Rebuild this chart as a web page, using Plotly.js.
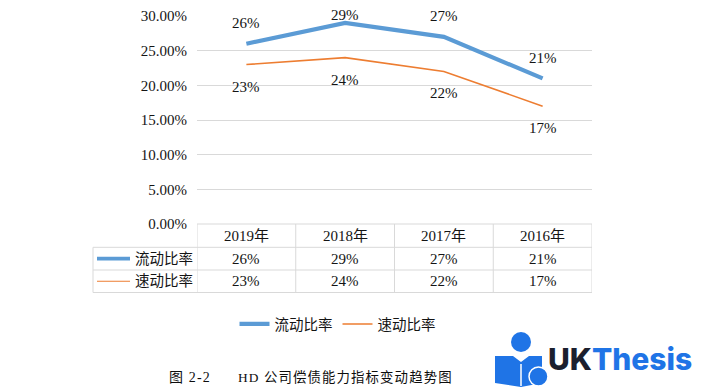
<!DOCTYPE html>
<html>
<head>
<meta charset="utf-8">
<script src="https://cdn.plot.ly/plotly-3.0.1.min.js"></script>
<style>html,body{margin:0;padding:0;background:#fff;}#chart{width:705px;height:387px;}</style>
</head>
<body>
<div id="chart"></div>
<script>
// ---- data ----
const years = ['2019年', '2018年', '2017年', '2016年'];
const seriesNames = ['流动比率', '速动比率'];
const currentRatio = [0.26, 0.29, 0.27, 0.21];
const quickRatio = [0.23, 0.24, 0.22, 0.17];
const captionLabel = '图 2-2';
const captionTitle = 'HD 公司偿债能力指标变动趋势图';
const logoText1 = 'UK';
const logoText2 = 'Thesis';

// ---- layout helpers ----
const W = 705, H = 387;
const M = {l: 197, r: 113, t: 16, b: 163};
const PW = W - M.l - M.r, PH = H - M.t - M.b;
const YMAX = 0.30;
const px = X => (X - M.l) / PW;
const py = Y => (H - M.b - Y) / PH;
const yPix = v => M.t + (1 - v / YMAX) * PH;

const serif = "'Liberation Serif', 'Times New Roman', 'Noto Sans CJK SC', serif";
const txt = '#141414';
const grid = '#d9d9d9';
const colors = ['#5b9bd5', '#ed7d31'];
const widths = [4.2, 1.6];
const allSeries = [currentRatio, quickRatio];
const pct = v => Math.round(v * 100) + '%';

const traces = allSeries.map((vals, i) => ({
  type: 'scatter', mode: 'lines', x: years, y: vals, name: seriesNames[i],
  line: {color: colors[i], width: widths[i]}, hoverinfo: 'skip'
}));

const annotations = [];
const shapes = [];

// data labels
currentRatio.forEach((v, i) => {
  const c = Math.max(yPix(v) - 20.5, 15);
  annotations.push({xref: 'x', x: years[i], yref: 'paper', y: py(c), yanchor: 'middle',
    text: pct(v), showarrow: false, font: {family: serif, size: 15, color: txt}});
});
quickRatio.forEach((v, i) => {
  const c = yPix(v) + 22;
  annotations.push({xref: 'x', x: years[i], yref: 'paper', y: py(c), yanchor: 'middle',
    text: pct(v), showarrow: false, font: {family: serif, size: 15, color: txt}});
});

// data table
const rowY = [235.7, 258.7, 281.3];
years.forEach((yr, i) => {
  annotations.push({xref: 'x', x: yr, yref: 'paper', y: py(rowY[0]), yanchor: 'middle',
    text: yr, showarrow: false, font: {family: serif, size: 15, color: txt}});
  allSeries.forEach((vals, s) => {
    annotations.push({xref: 'x', x: yr, yref: 'paper', y: py(rowY[s + 1]), yanchor: 'middle',
      text: pct(vals[i]), showarrow: false, font: {family: serif, size: 15, color: txt}});
  });
});
seriesNames.forEach((nm, s) => {
  annotations.push({xref: 'paper', x: px(133), xanchor: 'left', yref: 'paper', y: py(rowY[s + 1]),
    yanchor: 'middle', text: nm, showarrow: false, font: {family: serif, size: 14.5, color: txt}});
  shapes.push({type: 'line', xref: 'paper', yref: 'paper', x0: px(97), x1: px(130),
    y0: py(rowY[s + 1]), y1: py(rowY[s + 1]), line: {color: colors[s], width: widths[s] - 0.5}});
});
const L = () => ({color: grid, width: 1});
const hLines = [[224, 197], [247.3, 93], [270, 93], [292.5, 93]];
hLines.forEach(([Y, X0]) => shapes.push({type: 'line', xref: 'paper', yref: 'paper',
  x0: px(X0), x1: px(592), y0: py(Y), y1: py(Y), line: L()}));
shapes.push({type: 'line', xref: 'paper', yref: 'paper', x0: px(93), x1: px(93),
  y0: py(247.3), y1: py(292.5), line: L()});
[-0.5, 0.5, 1.5, 2.5, 3.5].forEach(xv => shapes.push({type: 'line', xref: 'x', yref: 'paper',
  x0: xv, x1: xv, y0: py(224), y1: py(292.5), line: L()}));

// caption
const spaced = s => Array.from(s).join('\u200A');
annotations.push({xref: 'paper', x: px(166.5), xanchor: 'left', yref: 'paper', y: py(377), yanchor: 'middle',
  text: spaced(captionLabel), showarrow: false, font: {family: serif, size: 14, color: '#0d0d0d'}});
annotations.push({xref: 'paper', x: px(235.5), xanchor: 'left', yref: 'paper', y: py(377), yanchor: 'middle',
  text: spaced(captionTitle), showarrow: false, font: {family: serif, size: 13.4, color: '#0d0d0d'}});

// logo
const blue = '#1f74e6';
annotations.push({xref: 'paper', x: px(546), xanchor: 'left', yref: 'paper', y: py(359), yanchor: 'middle',
  text: logoText1 + '<span style="color:' + blue + '">' + logoText2 + '</span>', showarrow: false,
  font: {family: 'Inter, "Open Sans", sans-serif', size: 30, weight: 800, color: '#1b1f2e'}});
shapes.push({type: 'circle', xref: 'paper', yref: 'paper', x0: px(511), x1: px(531), y0: py(332), y1: py(352),
  fillcolor: blue, line: {width: 0}});
const P = (X, Y) => px(X).toFixed(5) + ',' + py(Y).toFixed(5);
shapes.push({type: 'path', xref: 'paper', yref: 'paper',
  path: 'M' + P(495, 356) + 'L' + P(513, 356) + 'L' + P(521, 362) + 'L' + P(529, 356) + 'L' + P(542, 356) +
        'L' + P(542, 383) + 'L' + P(521, 387) + 'L' + P(495, 383) + 'Z',
  fillcolor: blue, line: {width: 0}});
shapes.push({type: 'line', xref: 'paper', yref: 'paper', x0: px(521), x1: px(521), y0: py(364), y1: py(386),
  line: {color: '#ffffff', width: 1.5}});
shapes.push({type: 'circle', xref: 'paper', yref: 'paper', x0: px(529), x1: px(548), y0: py(367), y1: py(386),
  fillcolor: blue, line: {color: '#ffffff', width: 1.5}});

const layout = {
  width: W, height: H, margin: M,
  paper_bgcolor: '#ffffff', plot_bgcolor: '#ffffff',
  showlegend: true,
  legend: {orientation: 'h', x: px(337.5), xanchor: 'center', y: py(324), yanchor: 'middle',
    font: {family: serif, size: 14.5, color: txt}, bgcolor: 'rgba(0,0,0,0)'},
  xaxis: {type: 'category', range: [-0.5, 3.5], showticklabels: false, showgrid: false,
    zeroline: false, showline: false, ticks: '', fixedrange: true},
  yaxis: {range: [0, YMAX], dtick: 0.05, tick0: 0, tickformat: '.2%', showgrid: true, gridcolor: grid,
    gridwidth: 1, zeroline: false, showline: false, ticks: '', ticklabelstandoff: 9,
    tickfont: {family: serif, size: 15, color: txt}, fixedrange: true},
  annotations: annotations, shapes: shapes
};

Plotly.newPlot('chart', traces, layout, {displayModeBar: false, staticPlot: true});
</script>
</body>
</html>
